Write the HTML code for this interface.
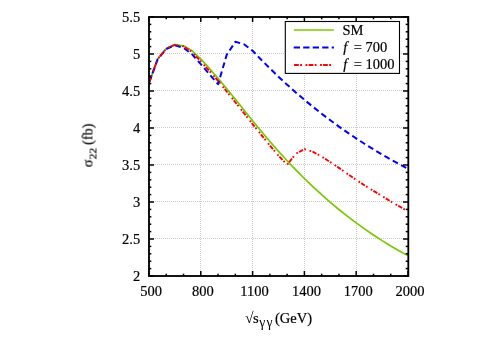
<!DOCTYPE html>
<html><head><meta charset="utf-8"><title>plot</title>
<style>html,body{margin:0;padding:0;background:#fff;}body{width:498px;height:349px;overflow:hidden;position:relative;font-family:"Liberation Serif",serif;}</style></head>
<body>
<svg width="498" height="349" viewBox="0 0 498 349" style="position:absolute;left:0;top:0">
<rect width="498" height="349" fill="#fff"/>
<g stroke="#cacaca" stroke-width="1" stroke-dasharray="1 1" fill="none">
<line x1="200.50" y1="17.0" x2="200.50" y2="276.0"/>
<line x1="252.50" y1="17.0" x2="252.50" y2="276.0"/>
<line x1="304.50" y1="17.0" x2="304.50" y2="276.0"/>
<line x1="356.50" y1="17.0" x2="356.50" y2="276.0"/>
<line x1="149.0" y1="53.50" x2="408.0" y2="53.50"/>
<line x1="149.0" y1="90.50" x2="408.0" y2="90.50"/>
<line x1="149.0" y1="127.50" x2="408.0" y2="127.50"/>
<line x1="149.0" y1="164.50" x2="408.0" y2="164.50"/>
<line x1="149.0" y1="201.50" x2="408.0" y2="201.50"/>
<line x1="149.0" y1="238.50" x2="408.0" y2="238.50"/>
</g>
<clipPath id="c"><rect x="149.0" y="17.0" width="259.0" height="259.0"/></clipPath>
<g fill="none" stroke-linejoin="round" clip-path="url(#c)">
<polyline points="149.00,83.00 157.63,59.00 166.27,48.50 174.90,44.50 183.53,45.80 192.17,50.80 200.80,59.20 209.43,68.45 218.07,78.38 226.70,88.71 235.33,99.30 243.97,110.01 252.60,120.71 261.23,131.25 269.87,141.49 278.50,151.33 287.13,160.78 295.77,169.84 304.40,178.51 313.03,186.80 321.67,194.73 330.30,202.29 338.93,209.51 347.57,216.38 356.20,222.92 364.83,229.14 373.47,235.03 382.10,240.62 390.73,245.91 399.37,250.90 408.00,255.61" stroke="#78c800" stroke-width="1.7"/>
<polyline points="149.00,83.00 157.63,59.30 166.27,49.00 174.90,45.30 183.53,47.80 192.17,54.40 200.80,64.10 209.43,74.30 218.07,84.20 226.70,54.90 235.33,41.80 243.97,44.20 252.60,50.70 261.23,59.78 269.87,68.40 278.50,76.71 287.13,84.70 295.77,92.40 304.40,99.80 313.03,106.91 321.67,113.75 330.30,120.31 338.93,126.60 347.57,132.64 356.20,138.44 364.83,144.01 373.47,149.37 382.10,154.52 390.73,159.48 399.37,164.27 408.00,168.89" stroke="#0000ff" stroke-width="2.0" stroke-dasharray="5.9 3.6" stroke-dashoffset="-0.7"/>
<polyline points="149.00,83.00 157.63,59.04 166.27,48.64 174.90,44.80 183.53,46.42 192.17,52.01 200.80,61.60 209.43,70.96 218.07,80.98 226.70,91.48 235.33,102.26 243.97,113.16 252.60,124.04 261.23,134.80 269.87,145.48 278.50,155.63 287.13,164.80 295.77,153.80 304.40,149.10 313.03,151.80 321.67,156.60 330.30,162.10 338.93,167.90 347.57,174.00 356.20,179.90 364.83,185.50 373.47,190.90 382.10,196.10 390.73,201.40 399.37,206.40 408.00,211.40" stroke="#ff0000" stroke-width="1.9" stroke-dasharray="4.5 1.4 1.7 3.8 1.7 1.4" stroke-dashoffset="-0.8"/>
</g>
<g stroke="#000" stroke-width="1.5" fill="none">
<line x1="149.00" y1="276.0" x2="149.00" y2="271.0"/>
<line x1="149.00" y1="17.0" x2="149.00" y2="22.0"/>
<line x1="166.27" y1="276.0" x2="166.27" y2="273.7"/>
<line x1="166.27" y1="17.0" x2="166.27" y2="19.3"/>
<line x1="183.53" y1="276.0" x2="183.53" y2="273.7"/>
<line x1="183.53" y1="17.0" x2="183.53" y2="19.3"/>
<line x1="200.80" y1="276.0" x2="200.80" y2="271.0"/>
<line x1="200.80" y1="17.0" x2="200.80" y2="22.0"/>
<line x1="218.07" y1="276.0" x2="218.07" y2="273.7"/>
<line x1="218.07" y1="17.0" x2="218.07" y2="19.3"/>
<line x1="235.33" y1="276.0" x2="235.33" y2="273.7"/>
<line x1="235.33" y1="17.0" x2="235.33" y2="19.3"/>
<line x1="252.60" y1="276.0" x2="252.60" y2="271.0"/>
<line x1="252.60" y1="17.0" x2="252.60" y2="22.0"/>
<line x1="269.87" y1="276.0" x2="269.87" y2="273.7"/>
<line x1="269.87" y1="17.0" x2="269.87" y2="19.3"/>
<line x1="287.13" y1="276.0" x2="287.13" y2="273.7"/>
<line x1="287.13" y1="17.0" x2="287.13" y2="19.3"/>
<line x1="304.40" y1="276.0" x2="304.40" y2="271.0"/>
<line x1="304.40" y1="17.0" x2="304.40" y2="22.0"/>
<line x1="321.67" y1="276.0" x2="321.67" y2="273.7"/>
<line x1="321.67" y1="17.0" x2="321.67" y2="19.3"/>
<line x1="338.93" y1="276.0" x2="338.93" y2="273.7"/>
<line x1="338.93" y1="17.0" x2="338.93" y2="19.3"/>
<line x1="356.20" y1="276.0" x2="356.20" y2="271.0"/>
<line x1="356.20" y1="17.0" x2="356.20" y2="22.0"/>
<line x1="373.47" y1="276.0" x2="373.47" y2="273.7"/>
<line x1="373.47" y1="17.0" x2="373.47" y2="19.3"/>
<line x1="390.73" y1="276.0" x2="390.73" y2="273.7"/>
<line x1="390.73" y1="17.0" x2="390.73" y2="19.3"/>
<line x1="408.00" y1="276.0" x2="408.00" y2="271.0"/>
<line x1="408.00" y1="17.0" x2="408.00" y2="22.0"/>
<line x1="149.0" y1="17.00" x2="154.0" y2="17.00"/>
<line x1="408.0" y1="17.00" x2="403.0" y2="17.00"/>
<line x1="149.0" y1="24.40" x2="151.3" y2="24.40"/>
<line x1="408.0" y1="24.40" x2="405.7" y2="24.40"/>
<line x1="149.0" y1="31.80" x2="151.3" y2="31.80"/>
<line x1="408.0" y1="31.80" x2="405.7" y2="31.80"/>
<line x1="149.0" y1="39.20" x2="151.3" y2="39.20"/>
<line x1="408.0" y1="39.20" x2="405.7" y2="39.20"/>
<line x1="149.0" y1="46.60" x2="151.3" y2="46.60"/>
<line x1="408.0" y1="46.60" x2="405.7" y2="46.60"/>
<line x1="149.0" y1="54.00" x2="154.0" y2="54.00"/>
<line x1="408.0" y1="54.00" x2="403.0" y2="54.00"/>
<line x1="149.0" y1="61.40" x2="151.3" y2="61.40"/>
<line x1="408.0" y1="61.40" x2="405.7" y2="61.40"/>
<line x1="149.0" y1="68.80" x2="151.3" y2="68.80"/>
<line x1="408.0" y1="68.80" x2="405.7" y2="68.80"/>
<line x1="149.0" y1="76.20" x2="151.3" y2="76.20"/>
<line x1="408.0" y1="76.20" x2="405.7" y2="76.20"/>
<line x1="149.0" y1="83.60" x2="151.3" y2="83.60"/>
<line x1="408.0" y1="83.60" x2="405.7" y2="83.60"/>
<line x1="149.0" y1="91.00" x2="154.0" y2="91.00"/>
<line x1="408.0" y1="91.00" x2="403.0" y2="91.00"/>
<line x1="149.0" y1="98.40" x2="151.3" y2="98.40"/>
<line x1="408.0" y1="98.40" x2="405.7" y2="98.40"/>
<line x1="149.0" y1="105.80" x2="151.3" y2="105.80"/>
<line x1="408.0" y1="105.80" x2="405.7" y2="105.80"/>
<line x1="149.0" y1="113.20" x2="151.3" y2="113.20"/>
<line x1="408.0" y1="113.20" x2="405.7" y2="113.20"/>
<line x1="149.0" y1="120.60" x2="151.3" y2="120.60"/>
<line x1="408.0" y1="120.60" x2="405.7" y2="120.60"/>
<line x1="149.0" y1="128.00" x2="154.0" y2="128.00"/>
<line x1="408.0" y1="128.00" x2="403.0" y2="128.00"/>
<line x1="149.0" y1="135.40" x2="151.3" y2="135.40"/>
<line x1="408.0" y1="135.40" x2="405.7" y2="135.40"/>
<line x1="149.0" y1="142.80" x2="151.3" y2="142.80"/>
<line x1="408.0" y1="142.80" x2="405.7" y2="142.80"/>
<line x1="149.0" y1="150.20" x2="151.3" y2="150.20"/>
<line x1="408.0" y1="150.20" x2="405.7" y2="150.20"/>
<line x1="149.0" y1="157.60" x2="151.3" y2="157.60"/>
<line x1="408.0" y1="157.60" x2="405.7" y2="157.60"/>
<line x1="149.0" y1="165.00" x2="154.0" y2="165.00"/>
<line x1="408.0" y1="165.00" x2="403.0" y2="165.00"/>
<line x1="149.0" y1="172.40" x2="151.3" y2="172.40"/>
<line x1="408.0" y1="172.40" x2="405.7" y2="172.40"/>
<line x1="149.0" y1="179.80" x2="151.3" y2="179.80"/>
<line x1="408.0" y1="179.80" x2="405.7" y2="179.80"/>
<line x1="149.0" y1="187.20" x2="151.3" y2="187.20"/>
<line x1="408.0" y1="187.20" x2="405.7" y2="187.20"/>
<line x1="149.0" y1="194.60" x2="151.3" y2="194.60"/>
<line x1="408.0" y1="194.60" x2="405.7" y2="194.60"/>
<line x1="149.0" y1="202.00" x2="154.0" y2="202.00"/>
<line x1="408.0" y1="202.00" x2="403.0" y2="202.00"/>
<line x1="149.0" y1="209.40" x2="151.3" y2="209.40"/>
<line x1="408.0" y1="209.40" x2="405.7" y2="209.40"/>
<line x1="149.0" y1="216.80" x2="151.3" y2="216.80"/>
<line x1="408.0" y1="216.80" x2="405.7" y2="216.80"/>
<line x1="149.0" y1="224.20" x2="151.3" y2="224.20"/>
<line x1="408.0" y1="224.20" x2="405.7" y2="224.20"/>
<line x1="149.0" y1="231.60" x2="151.3" y2="231.60"/>
<line x1="408.0" y1="231.60" x2="405.7" y2="231.60"/>
<line x1="149.0" y1="239.00" x2="154.0" y2="239.00"/>
<line x1="408.0" y1="239.00" x2="403.0" y2="239.00"/>
<line x1="149.0" y1="246.40" x2="151.3" y2="246.40"/>
<line x1="408.0" y1="246.40" x2="405.7" y2="246.40"/>
<line x1="149.0" y1="253.80" x2="151.3" y2="253.80"/>
<line x1="408.0" y1="253.80" x2="405.7" y2="253.80"/>
<line x1="149.0" y1="261.20" x2="151.3" y2="261.20"/>
<line x1="408.0" y1="261.20" x2="405.7" y2="261.20"/>
<line x1="149.0" y1="268.60" x2="151.3" y2="268.60"/>
<line x1="408.0" y1="268.60" x2="405.7" y2="268.60"/>
<line x1="149.0" y1="276.00" x2="154.0" y2="276.00"/>
<line x1="408.0" y1="276.00" x2="403.0" y2="276.00"/>
</g>
<rect x="149.0" y="17.0" width="259.3" height="259.0" fill="none" stroke="#000" stroke-width="1.85"/>
<rect x="285.3" y="21.5" width="114.2" height="51.9" fill="#fff" stroke="#000" stroke-width="1.1"/>
<line x1="293.8" y1="30" x2="333.8" y2="30" stroke="#78c800" stroke-width="1.7"/>
<line x1="293.7" y1="47.5" x2="333.9" y2="47.5" stroke="#0000ff" stroke-width="2.1" stroke-dasharray="6.3 3.2"/>
<line x1="294.1" y1="65" x2="333.9" y2="65" stroke="#ff0000" stroke-width="2.0" stroke-dasharray="4.7 1.4 1.8 3.6 1.8 1.2"/>
<g font-family="Liberation Serif, serif" font-size="14.5" fill="#000" stroke="#000" stroke-width="0.2" style="filter:grayscale(1)">
<text x="140.2" y="21.80" text-anchor="end">5.5</text>
<text x="140.2" y="58.80" text-anchor="end">5</text>
<text x="140.2" y="95.80" text-anchor="end">4.5</text>
<text x="140.2" y="132.80" text-anchor="end">4</text>
<text x="140.2" y="169.80" text-anchor="end">3.5</text>
<text x="140.2" y="206.80" text-anchor="end">3</text>
<text x="140.2" y="243.80" text-anchor="end">2.5</text>
<text x="140.2" y="280.80" text-anchor="end">2</text>
<text x="151.00" y="295.7" text-anchor="middle">500</text>
<text x="202.80" y="295.7" text-anchor="middle">800</text>
<text x="254.60" y="295.7" text-anchor="middle">1100</text>
<text x="306.40" y="295.7" text-anchor="middle">1400</text>
<text x="358.20" y="295.7" text-anchor="middle">1700</text>
<text x="410.00" y="295.7" text-anchor="middle">2000</text>
<text x="342.4" y="35">SM</text>
<text x="343.3" y="52.2" font-style="italic">f</text>
<text x="353.7" y="52.2">=</text>
<text x="365.5" y="52.2">700</text>
<text x="343.3" y="69.3" font-style="italic">f</text>
<text x="353.7" y="69.3">=</text>
<text x="365.5" y="69.3">1000</text>
<text x="244.9" y="322.6" stroke="none" font-size="15.6">√</text>
<text x="253.0" y="322.5">s</text>
<text x="259.2" y="326.7" font-size="13.6" stroke="none">γ</text>
<text x="266.4" y="326.7" font-size="13.6" stroke="none">γ</text>
<text x="275.0" y="322.5">(GeV)</text>
<g transform="translate(92.5,169.8) rotate(-90)">
<text x="2.4" y="0">σ</text>
<text x="10.5" y="4.2" font-size="11.4">22</text>
<text x="25.1" y="0" font-size="14">(fb)</text>
</g>
</g>
</svg>
</body></html>
